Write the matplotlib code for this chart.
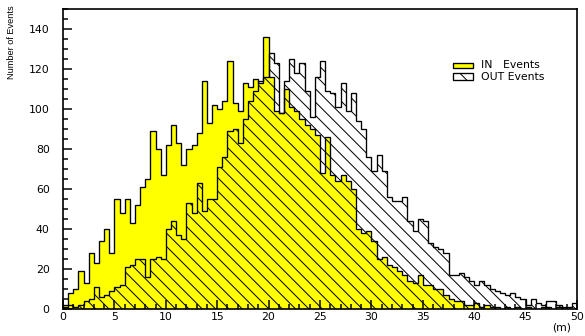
import numpy as np
import matplotlib
matplotlib.use("Agg")
import matplotlib.pyplot as plt
from matplotlib.patches import Rectangle
from matplotlib.ticker import MultipleLocator

# bin edges 0..50 (m), 0.5 wide
edges = np.arange(0, 50.5, 0.5)

in_events = [2, 8, 10, 19, 13, 28, 23, 34, 40, 28,
             55, 48, 55, 43, 52, 61, 65, 89, 80, 67,
             82, 92, 83, 72, 80, 82, 88, 114, 93, 102,
             100, 104, 124, 103, 99, 113, 111, 115, 113, 136,
             116, 99, 98, 110, 101, 99, 95, 92, 90, 87,
             68, 86, 67, 64, 67, 64, 60, 40, 38, 39,
             34, 25, 26, 22, 21, 19, 17, 14, 13, 17,
             12, 12, 10, 10, 7, 5, 4, 4, 2, 2,
             3, 1, 2, 1, 1, 0, 1, 0, 1, 0,
             1, 0, 0, 1, 1, 0, 1, 0, 0, 0]

out_events = [1, 2, 1, 2, 4, 5, 11, 6, 7, 9,
              11, 12, 21, 22, 25, 25, 16, 25, 26, 25,
              40, 44, 37, 35, 53, 48, 63, 49, 55, 55,
              71, 76, 89, 90, 83, 95, 104, 109, 114, 116,
              128, 123, 98, 114, 125, 118, 123, 109, 96, 116,
              124, 109, 108, 101, 113, 99, 108, 94, 90, 76,
              69, 77, 69, 56, 54, 54, 56, 44, 39, 45,
              44, 33, 31, 30, 28, 17, 17, 18, 16, 14,
              12, 14, 12, 10, 9, 8, 7, 8, 6, 5,
              2, 5, 3, 2, 4, 4, 2, 1, 1, 3]

legend_labels = ["IN   Events", "OUT Events"]

DPI = 120
HATCH = '\\' * 3
plt.rcParams['hatch.linewidth'] = 0.6
plt.rcParams['font.family'] = ['DejaVu Sans']

fig = plt.figure(figsize=(585 / DPI, 336 / DPI), dpi=DPI)
ax = fig.add_axes([63 / 585, 27 / 336, 514 / 585, 300 / 336])

ax.stairs(in_events, edges, fill=True, facecolor='#ffff00', edgecolor='black', linewidth=0.8, zorder=1)
ax.stairs(out_events, edges, fill=True, facecolor='none', edgecolor='black', hatch=HATCH, linewidth=0.8, zorder=2)

ax.set_xlim(0, 50)
ax.set_ylim(0, 150)
ax.xaxis.set_major_locator(MultipleLocator(5))
ax.xaxis.set_minor_locator(MultipleLocator(1))
ax.yaxis.set_major_locator(MultipleLocator(20))
ax.yaxis.set_minor_locator(MultipleLocator(5))
ax.tick_params(which='both', direction='in', top=False, right=False, width=0.9, labelsize=6.5)
ax.tick_params(axis='y', which='major', length=5.5, pad=8)
ax.tick_params(axis='y', which='minor', length=3)
ax.tick_params(axis='x', which='major', length=5.5, pad=2)
ax.tick_params(axis='x', which='minor', length=3)
for s in ax.spines.values():
    s.set_linewidth(1.0)

fig.text(12 / 585, 1 - 5 / 336, "Number of Events", rotation=90, ha='center', va='top',
         fontsize=5.5, family=['Liberation Sans Narrow', 'Liberation Sans', 'DejaVu Sans'])
fig.text(562 / 585, 1 - 327 / 336, "(m)", ha='center', va='center', fontsize=6.5)

# legend, drawn by hand in axes fraction
ax.add_patch(Rectangle((0.759, 0.803), 0.039, 0.018, transform=ax.transAxes,
                       facecolor='#ffff00', edgecolor='black', linewidth=0.8, zorder=5))
ax.add_patch(Rectangle((0.759, 0.763), 0.039, 0.022, transform=ax.transAxes,
                       facecolor='white', edgecolor='black', hatch=HATCH, linewidth=0.8, zorder=5))
ax.text(0.813, 0.812, legend_labels[0], transform=ax.transAxes, va='center', fontsize=6.5)
ax.text(0.813, 0.772, legend_labels[1], transform=ax.transAxes, va='center', fontsize=6.5)

fig.savefig("out.png", dpi=DPI)
